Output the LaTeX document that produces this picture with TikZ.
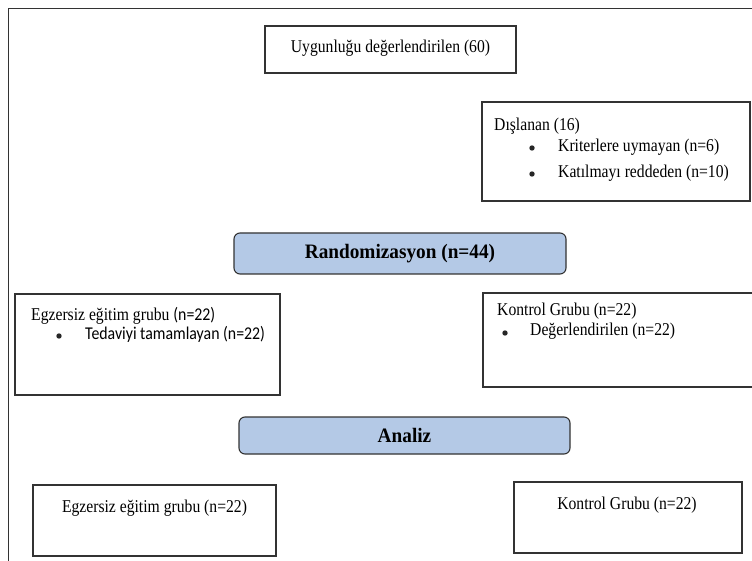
\documentclass[tikz,border=0pt]{standalone}
\usepackage{fontspec}
\setmainfont{Liberation Serif}[FakeStretch=0.87]
\newfontfamily\sansf{Carlito}[FakeStretch=0.88]
\newfontfamily\boldf{Liberation Serif}[FakeStretch=0.94]
\definecolor{boxline}{HTML}{333333}
\definecolor{bluefill}{HTML}{B4C9E6}
\tikzset{
  x=1pt,y=-1pt,
  plainbox/.style={draw=boxline,line width=1.1pt,rectangle,inner sep=0pt},
  bluebox/.style={draw=boxline,line width=1.1pt,rectangle,rounded corners=6pt,fill=bluefill,inner sep=0pt,font=\fontsize{20.5}{23}\boldf\bfseries},
  txt/.style={inner sep=0pt,font=\fontsize{18}{20}\selectfont},
  stxt/.style={inner sep=0pt,font=\fontsize{18}{20}\sansf},
  bul/.style={circle,fill=black!85,inner sep=0pt,minimum size=5.4pt},
}
\begin{document}
\begin{tikzpicture}
\useasboundingbox (0,0) rectangle (752,561);
\fill[white] (0,0) rectangle (752,561);
% outer frame
\coordinate (fbl) at (8,562);
\coordinate (ftl) at (8,9);
\coordinate (ftr) at (753,9);
\draw[boxline,line width=1pt] (fbl) -- (ftl) -- (ftr);
% top box
\node[plainbox,minimum width=251pt,minimum height=47pt] (A) at (390.5,49.5) {};
\node[txt] (At) at (390.5,48) {Uygunluğu değerlendirilen (60)};
% excluded
\node[plainbox,minimum width=268pt,minimum height=99pt] (B) at (616,151.5) {};
\node[txt,anchor=west] (Bt) at (494,126) {Dışlanan (16)};
\node[bul] (Bb1) at (532,148) {};
\node[txt,anchor=west] (Bt1) at (558,147) {Kriterlere uymayan (n=6)};
\node[bul] (Bb2) at (532,174) {};
\node[txt,anchor=west] (Bt2) at (558,173) {Katılmayı reddeden (n=10)};
% randomization
\node[bluebox,minimum width=332pt,minimum height=41pt] (R) at (400,253.5) {Randomizasyon (n=44)};
% groups
\node[plainbox,minimum width=265pt,minimum height=101pt] (C) at (147.5,344.5) {};
\node[txt,anchor=west] (Ct) at (31,316) {Egzersiz eğitim grubu {\fontsize{18}{20}\sansf(n=22)}};
\node[bul] (Cb) at (59,336) {};
\node[stxt,anchor=west] (Ct1) at (85,334) {Tedaviyi tamamlayan (n=22)};
\node[plainbox,minimum width=272pt,minimum height=94pt] (D) at (619,340) {};
\node[txt,anchor=west] (Dt) at (497,311) {Kontrol Grubu (n=22)};
\node[bul] (Db) at (505,333) {};
\node[txt,anchor=west] (Dt1) at (530,331) {Değerlendirilen (n=22)};
% analysis
\node[bluebox,minimum width=331pt,minimum height=37pt] (An) at (404.5,435.5) {Analiz};
\node[plainbox,minimum width=243pt,minimum height=71pt] (E) at (154.5,520.5) {};
\node[txt] (Et) at (154.5,508) {Egzersiz eğitim grubu (n=22)};
\node[plainbox,minimum width=228pt,minimum height=71pt] (F) at (628,517.5) {};
\node[txt] (Ft) at (627,505) {Kontrol Grubu (n=22)};
\end{tikzpicture}
\end{document}
